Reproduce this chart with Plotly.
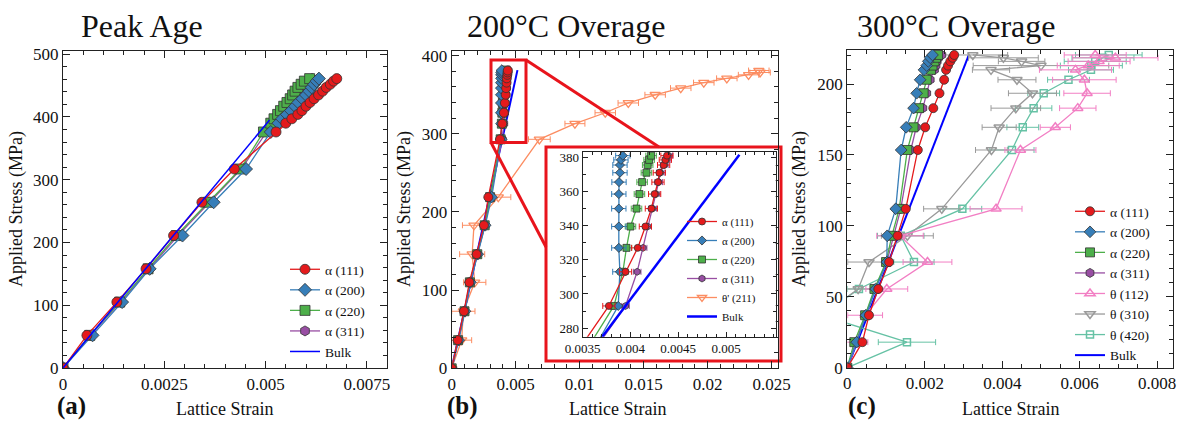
import plotly.graph_objects as go

W, H = 1183, 425
FONT = "Liberation Serif"

# ---------------- data: panel (a) Peak Age ----------------
a_stress = [0, 52, 105, 158, 211, 264, 317, 376, 390, 397, 404, 410, 417, 423, 429, 435, 441, 447, 452, 457, 461]
a_111 = [0, 0.00059, 0.00133, 0.00205, 0.00273, 0.00343, 0.00423, 0.00526, 0.00550, 0.00565, 0.00580, 0.00590,
         0.00600, 0.00610, 0.00620, 0.00631, 0.00641, 0.00650, 0.00660, 0.00668, 0.00676]
a_200 = [0, 0.00073, 0.00146, 0.00214, 0.00295, 0.00372, 0.00452, 0.00513, 0.00532, 0.00541, 0.00553, 0.00563,
         0.00573, 0.00581, 0.00591, 0.00600, 0.00608, 0.00614, 0.00620, 0.00626, 0.00632]
a_220 = [0, 0.00066, 0.00140, 0.00210, 0.00280, 0.00359, 0.00438, 0.00495, 0.00513, 0.00521, 0.00530, 0.00537,
         0.00545, 0.00553, 0.00561, 0.00567, 0.00573, 0.00580, 0.00588, 0.00596, 0.00609]
a_311 = [0, 0.00068, 0.00142, 0.00212, 0.00284, 0.00362, 0.00440, 0.00503, 0.00518, 0.00526, 0.00535, 0.00543,
         0.00551, 0.00559, 0.00567, 0.00574, 0.00581, 0.00588, 0.00596, 0.00604, 0.00615]
a_bulk_x = [0, 0.0051]
a_bulk_y = [0, 395]

# ---------------- data: panel (b) 200C Overage ----------------
b_stress = [0, 36, 73, 110, 146, 183, 219, 293, 313, 327, 339.5, 350, 358.5, 365.5, 371, 375.5, 378.5, 381]
b_111 = [0, 0.00047, 0.00096, 0.00138, 0.00195, 0.00252, 0.00286, 0.003774, 0.003948, 0.004076, 0.004156,
         0.004219, 0.004253, 0.004288, 0.004302, 0.004347, 0.004365, 0.004382]
b_200 = [0, 0.00055, 0.00104, 0.00146, 0.00203, 0.00262, 0.00312, 0.003872, 0.003889, 0.003878, 0.003878,
         0.003878, 0.003878, 0.00388, 0.00389, 0.00389, 0.00390, 0.00392]
b_220 = [0, 0.00050, 0.00100, 0.00142, 0.00200, 0.00258, 0.00300, 0.003827, 0.00392, 0.003958, 0.00400,
         0.004063, 0.004094, 0.004122, 0.004167, 0.00418, 0.004195, 0.004216]
b_311 = [0, 0.00052, 0.00101, 0.00143, 0.00201, 0.00260, 0.00302, 0.003948, 0.00407, 0.004132, 0.00418,
         0.004232, 0.004268, 0.004295, 0.004313, 0.004354, 0.004375, 0.00440]
b_theta = [0, 0.00078, 0.00091, 0.00180, 0.00160, 0.00174, 0.00364, 0.00685, 0.00963, 0.01200, 0.01380,
           0.01590, 0.01790, 0.01970, 0.02150, 0.02320, 0.02410, 0.02400]
b_theta_err = [0, 0.00078, 0.00091, 0.00087, 0.00098, 0.00090, 0.00098, 0.00085, 0.00078, 0.00080, 0.00080,
               0.00080, 0.00080, 0.00080, 0.00080, 0.00080, 0.00080, 0.00080]
b_err = {"111": 0.000064, "200": 0.000075, "220": 0.000055, "311": 0.00004}
b_bulk_x = [0, 0.00514]
b_bulk_y = [0, 381.5]
inset_xticks = [0.0035, 0.004, 0.0045, 0.005]

# ---------------- data: panel (c) 300C Overage ----------------
c_stress = [0, 18, 37, 55.5, 74.5, 93, 112, 153.5, 169.5, 183, 193.5, 203, 210, 213, 216, 218.5, 220.5]
c_111 = [0, 0.00039, 0.00056, 0.00080, 0.00108, 0.00130, 0.00151, 0.00182, 0.00201, 0.00222, 0.00238,
         0.00250, 0.00255, 0.00260, 0.00266, 0.00272, 0.00276]
c_200 = [0, 0.00024, 0.00048, 0.00073, 0.00102, 0.00103, 0.00125, 0.00139, 0.00152, 0.00171, 0.00179,
         0.00188, 0.00198, 0.00205, 0.00209, 0.00214, 0.00220]
c_220 = [0, 0.00018, 0.00046, 0.00070, 0.00100, 0.00115, 0.00134, 0.00155, 0.00171, 0.00185, 0.00197,
         0.00205, 0.00216, 0.00220, 0.00225, 0.00229, 0.00234]
c_311 = [0, 0.00022, 0.00048, 0.00072, 0.00102, 0.00120, 0.00138, 0.00164, 0.00178, 0.00195, 0.00205,
         0.00214, 0.00225, 0.00229, 0.00232, 0.00236, 0.00244]
c_t112 = [0, 0.00024, 0.00046, 0.00102, 0.00207, 0.00136, 0.00384, 0.00447, 0.00537, 0.00595, 0.00619,
          0.00612, 0.00589, 0.00622, 0.00650, 0.00692, 0.00640]
c_t112_err = [0, 0.00029, 0.00045, 0.00054, 0.00063, 0.00060, 0.00067, 0.00040, 0.00039, 0.00047, 0.00060,
              0.00082, 0.00093, 0.00080, 0.00080, 0.00110, 0.00080]
c_t310 = [None, None, -0.00066, 0.00028, 0.00056, 0.00155, 0.00244, 0.00372, 0.00392, 0.00435, 0.00478,
          0.00438, 0.00371, 0.00500, 0.00450, 0.00403, 0.00324]
c_t310_err = [0, 0, 0.0005, 0.00032, 0.00055, 0.00067, 0.00047, 0.00041, 0.00044, 0.00064, 0.00062,
              0.00049, 0.00048, 0.00175, 0.00060, 0.00090, 0.00090]
c_t420 = [0, 0.00154, -0.00066, 0.00030, 0.00172, 0.00138, 0.00297, 0.00425, 0.00453, 0.00481, 0.00507,
          0.00571, 0.00629, 0.00630, 0.00640, 0.00660, 0.00675]
c_t420_err = [0, 0.00074, 0.0005, 0.0003, 0.00052, 0.00060, 0.00050, 0.00057, 0.00041, 0.00047, 0.00041,
              0.00054, 0.00058, 0.00080, 0.00080, 0.00080, 0.00086]
c_bulk_x = [0, 0.00314]
c_bulk_y = [0, 220.7]

# ---------------- styles ----------------
RED, BLUE, GREEN, PURPLE = "#e41a1c", "#377eb8", "#4daf4a", "#984ea3"
ORANGE, PINK, GRAY, TEAL, BULK = "#fc8d62", "#f27fc4", "#9a9a9a", "#66c2a5", "#0000ff"
alpha_style = [("α (111)", RED, "circle"), ("α (200)", BLUE, "diamond"),
               ("α (220)", GREEN, "square"), ("α (311)", PURPLE, "hexagon")]

fig = go.Figure()


def add_alpha(xs_list, ys, xa, ya, legend, show, size, errs=None):
    # draw purple..red so red ends on top; legendrank keeps legend order
    for i in [3, 2, 1, 0]:
        name, col, sym = alpha_style[i]
        ex = None
        if errs is not None:
            ex = dict(type="constant", value=errs[i], thickness=1, width=3, color=col)
        fig.add_trace(go.Scatter(
            x=xs_list[i], y=ys, mode="lines+markers", name=name, xaxis=xa, yaxis=ya,
            line=dict(color=col, width=1.3),
            marker=dict(symbol=sym, size=size, color=col, line=dict(color="#333333", width=0.8)),
            error_x=ex, showlegend=show, legend=legend, legendrank=i + 1))


# panel a
add_alpha([a_111, a_200, a_220, a_311], a_stress, "x", "y", "legend", True, 10)
fig.add_trace(go.Scatter(x=a_bulk_x, y=a_bulk_y, mode="lines", name="Bulk", xaxis="x", yaxis="y",
                         line=dict(color=BULK, width=1.5), legend="legend", legendrank=9))

# panel b main
fig.add_trace(go.Scatter(x=b_theta, y=b_stress, mode="lines+markers", name="θ' (211)", xaxis="x2", yaxis="y2",
                         line=dict(color=ORANGE, width=1.3),
                         marker=dict(symbol="triangle-down-open", size=9, color=ORANGE, line=dict(width=1.3)),
                         error_x=dict(type="data", array=b_theta_err, thickness=1, width=3, color=ORANGE),
                         showlegend=False))
fig.add_trace(go.Scatter(x=b_bulk_x, y=b_bulk_y, mode="lines", name="Bulk", xaxis="x2", yaxis="y2",
                         line=dict(color=BULK, width=2), showlegend=False))
errs_b = [b_err["111"], b_err["200"], b_err["220"], b_err["311"]]
add_alpha([b_111, b_200, b_220, b_311], b_stress, "x2", "y2", "legend2", False, 9)

# inset
add_alpha([b_111, b_200, b_220, b_311], b_stress, "x4", "y4", "legend2", True, 7, errs_b)
fig.add_trace(go.Scatter(x=b_theta, y=b_stress, mode="lines+markers", name="θ' (211)", xaxis="x4", yaxis="y4",
                         line=dict(color=ORANGE, width=1.3),
                         marker=dict(symbol="triangle-down-open", size=8, color=ORANGE, line=dict(width=1.3)),
                         legend="legend2", legendrank=5))
fig.add_trace(go.Scatter(x=b_bulk_x, y=b_bulk_y, mode="lines", name="Bulk", xaxis="x4", yaxis="y4",
                         line=dict(color=BULK, width=2.5), legend="legend2", legendrank=9))

# panel c
fig.add_trace(go.Scatter(x=c_bulk_x, y=c_bulk_y, mode="lines", name="Bulk", xaxis="x3", yaxis="y3",
                         line=dict(color=BULK, width=2), legend="legend3", legendrank=9))
for name, xs, err, col, sym, rank in [
        ("θ (420)", c_t420, c_t420_err, TEAL, "square-open", 7),
        ("θ (310)", c_t310, c_t310_err, GRAY, "triangle-down-open", 6),
        ("θ (112)", c_t112, c_t112_err, PINK, "triangle-up-open", 5)]:
    fig.add_trace(go.Scatter(
        x=xs, y=c_stress, mode="lines+markers", name=name, xaxis="x3", yaxis="y3",
        line=dict(color=col, width=1.3),
        marker=dict(symbol=sym, size=9 if sym != "square-open" else 7, color=col, line=dict(width=1.5)),
        error_x=dict(type="data", array=err, thickness=1, width=3, color=col),
        legend="legend3", legendrank=rank))
add_alpha([c_111, c_200, c_220, c_311], c_stress, "x3", "y3", "legend3", True, 9)


# ---------------- axes ----------------
def px(x):
    return x / W


def py(y):
    return 1 - y / H


def axis(domain, rng, dtick, mdtick, anchor, size=17, tl=7):
    return dict(domain=domain, range=rng, dtick=dtick, tick0=0, anchor=anchor,
                showline=True, linecolor="#222", linewidth=1.2, mirror="ticks",
                ticks="inside", ticklen=tl, tickcolor="#222", tickwidth=1,
                minor=dict(ticks="inside", ticklen=tl * 0.55, dtick=mdtick, tick0=0, tickcolor="#222"),
                showgrid=False, zeroline=False, automargin=False, exponentformat="none",
                tickfont=dict(family=FONT, size=size, color="#111"))


fig.update_layout(
    xaxis=axis([px(63), px(387)], [0, 0.008], 0.0025, 0.0005, "y"),
    yaxis=axis([py(368), py(51)], [0, 505], 100, 20, "x"),
    xaxis2=axis([px(451.7), px(778)], [0, 0.0255], 0.005, 0.001, "y2"),
    yaxis2=axis([py(368.3), py(51)], [0, 406], 100, 20, "x2"),
    xaxis3=axis([px(847.3), px(1172.7)], [0, 0.0084], 0.002, 0.0005, "y3"),
    yaxis3=axis([py(367.7), py(50)], [0, 224], 50, 10, "x3"),
    xaxis4=axis([px(582.7), px(775.7)], [0.0035, 0.00552], 0.0005, 0.0001, "y4", size=13, tl=5),
    yaxis4=axis([py(336.7), py(151.7)], [275, 383.3], 20, 10, "x4", size=13, tl=5),
)
fig.layout.xaxis4.tickmode = "array"
fig.layout.xaxis4.tickvals = inset_xticks
fig.layout.xaxis4.ticktext = [str(v) for v in inset_xticks]

leg = dict(font=dict(family=FONT, size=13.5, color="#111"), bgcolor="rgba(0,0,0,0)",
           itemwidth=30, tracegroupgap=0, xanchor="left", yanchor="top")
fig.update_layout(
    legend=dict(leg, x=px(285), y=py(254)),
    legend2=dict(leg, x=px(682), y=py(207), font=dict(family=FONT, size=11, color="#111")),
    legend3=dict(leg, x=px(1070), y=py(196)),
)

# ---------------- inset decorations ----------------
red_line = dict(color="#e8141c", width=3)
shapes = [
    dict(type="rect", xref="paper", yref="paper", x0=px(546), x1=px(781), y0=py(361), y1=py(147),
         line=red_line, fillcolor="white", layer="below"),
    dict(type="rect", xref="paper", yref="paper", x0=px(491), x1=px(526), y0=py(142.5), y1=py(60),
         line=red_line),
    dict(type="line", xref="paper", yref="paper", x0=px(526), y0=py(60), x1=px(659), y1=py(147),
         line=red_line),
    dict(type="line", xref="paper", yref="paper", x0=px(491), y0=py(142.5), x1=px(546), y1=py(247),
         line=red_line),
]
fig.update_layout(shapes=shapes)

# ---------------- text ----------------
ann = []


def text(s, x, y, size, bold=False, angle=0):
    ann.append(dict(text=f"<b>{s}</b>" if bold else s, x=px(x), y=py(y), xref="paper", yref="paper",
                    showarrow=False, xanchor="center", yanchor="middle", textangle=angle,
                    font=dict(family=FONT, size=size, color="#111")))


text("Peak Age", 142, 26, 32)
text("200°C Overage", 566, 26, 32)
text("300°C Overage", 956, 26, 32)
for cx in (224, 617, 1010):
    text("Lattice Strain", cx, 409, 18)
for cx in (17, 405, 800):
    text("Applied Stress (MPa)", cx, 209, 18, angle=-90)
text("(a)", 71, 406, 25, bold=True)
text("(b)", 462, 406, 25, bold=True)
text("(c)", 862, 406, 25, bold=True)
fig.update_layout(annotations=ann)

fig.update_layout(width=W, height=H, autosize=False, margin=dict(l=0, r=0, t=0, b=0),
                  paper_bgcolor="white", plot_bgcolor="white",
                  font=dict(family=FONT, color="#111"))

fig.write_html("out.html")
